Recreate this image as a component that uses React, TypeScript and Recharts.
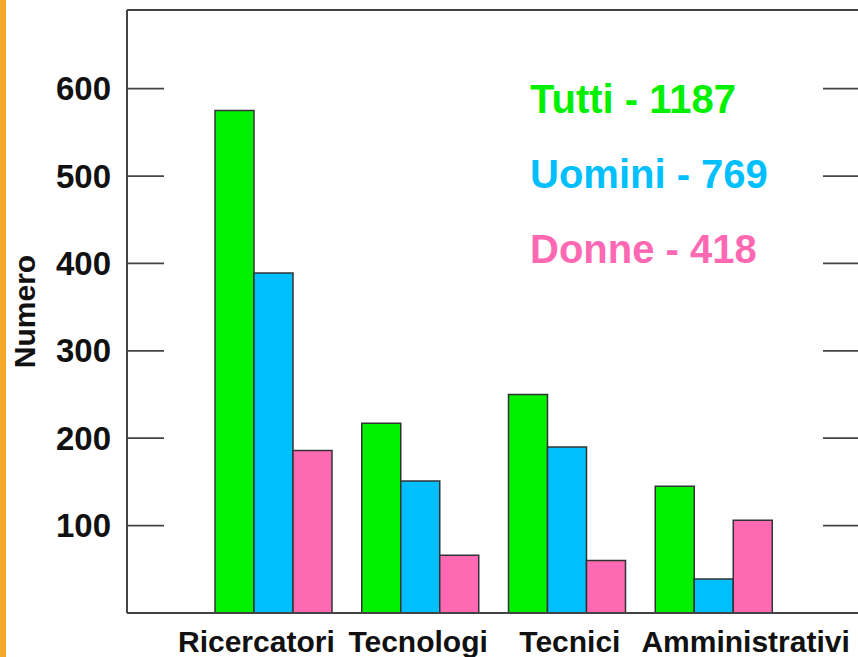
import React from 'react';
import { BarChart, Bar, XAxis, YAxis, ReferenceLine } from 'recharts';

const categories = ['Ricercatori', 'Tecnologi', 'Tecnici', 'Amministrativi'];
const tutti = [575, 217, 250, 145];
const uomini = [389, 151, 190, 39];
const donne = [186, 66, 60, 106];
const yTicks = [100, 200, 300, 400, 500, 600];
const yMax = 690;
const seriesNames = ['Tutti', 'Uomini', 'Donne'];

const COLORS = ['#00F000', '#00BFFF', '#FF69B4'];
const FONT = '"Liberation Sans", Arial, sans-serif';
const LABEL_DX = [-17, -2, 3, 32];
const TICK_LEN = 37;
const TICK_GAP = 17;
const AXIS_COLOR = '#444';
const CHART_W = 870;
const MARGIN_R = 10;

const data = categories.map((c, i) => ({
  name: c,
  tutti: tutti[i],
  uomini: uomini[i],
  donne: donne[i],
}));

const totals = [tutti, uomini, donne].map((arr) => arr.reduce((a, b) => a + b, 0));

const LeftTick = (props: any) => {
  const { x, y, payload } = props;
  const plotRight = CHART_W - MARGIN_R;
  return (
    <g>
      <line x1={x + TICK_GAP} x2={x + TICK_GAP + TICK_LEN} y1={y} y2={y} stroke={AXIS_COLOR} strokeWidth={1.8} />
      <line x1={plotRight - TICK_LEN} x2={plotRight} y1={y} y2={y} stroke={AXIS_COLOR} strokeWidth={1.8} />
      <text x={x + 1} y={y + 11.5} textAnchor="end" fontSize={33} fontWeight="bold" fontFamily={FONT} fill="#111">
        {payload.value}
      </text>
    </g>
  );
};

const BottomTick = (props: any) => {
  const { x, y, payload, index } = props;
  return (
    <text x={x + (LABEL_DX[index] || 0)} y={y + 39} textAnchor="middle" fontSize={30} fontWeight="bold" fontFamily={FONT} fill="#111">
      {payload.value}
    </text>
  );
};

const YLabel = (props: any) => {
  const vb = props.viewBox || { x: 0, y: 10, width: 127, height: 603 };
  const cx = vb.x + 35;
  const cy = vb.y + vb.height / 2;
  return (
    <text x={cx} y={cy} transform={`rotate(-90, ${cx}, ${cy})`} textAnchor="middle" fontSize={30} fontWeight="bold" fontFamily={FONT} fill="#111">
      Numero
    </text>
  );
};

export default function App() {
  return (
    <div style={{ position: 'absolute', left: 0, top: 0, width: 858, height: 657, overflow: 'hidden', background: '#fff', fontFamily: FONT }}>
      <div style={{ position: 'absolute', left: 0, top: 0, width: 6, height: 657, background: '#F7A82A' }} />
      <div style={{ position: 'absolute', left: 0, top: 0 }}>
        <BarChart width={CHART_W} height={657} data={data} margin={{ top: 10, right: MARGIN_R, bottom: 0, left: 0 }} barGap={0}>
          <XAxis
            dataKey="name"
            height={44}
            padding={{ left: 73, right: 73 }}
            tickLine={false}
            tickSize={0}
            tickMargin={0}
            axisLine={{ stroke: AXIS_COLOR, strokeWidth: 2 }}
            tick={<BottomTick />}
            interval={0}
          />
          <YAxis
            width={127}
            domain={[0, yMax]}
            ticks={yTicks}
            tickLine={false}
            tickSize={0}
            tickMargin={TICK_GAP}
            axisLine={{ stroke: AXIS_COLOR, strokeWidth: 2 }}
            tick={<LeftTick />}
            label={<YLabel />}
            allowDataOverflow
          />
          <ReferenceLine y={yMax} stroke={AXIS_COLOR} strokeWidth={2} ifOverflow="extendDomain" />
          <Bar dataKey="tutti" name={seriesNames[0]} fill={COLORS[0]} stroke="#333" strokeWidth={1.5} barSize={39} isAnimationActive={false} />
          <Bar dataKey="uomini" name={seriesNames[1]} fill={COLORS[1]} stroke="#333" strokeWidth={1.5} barSize={39} isAnimationActive={false} />
          <Bar dataKey="donne" name={seriesNames[2]} fill={COLORS[2]} stroke="#333" strokeWidth={1.5} barSize={39} isAnimationActive={false} />
        </BarChart>
      </div>
      <div style={{ position: 'absolute', left: 530, top: 62, fontSize: 40, fontWeight: 'bold', lineHeight: '75px', whiteSpace: 'nowrap' }}>
        {seriesNames.map((n, i) => (
          <div key={n} style={{ color: COLORS[i] }}>
            {n} - {totals[i]}
          </div>
        ))}
      </div>
    </div>
  );
}
